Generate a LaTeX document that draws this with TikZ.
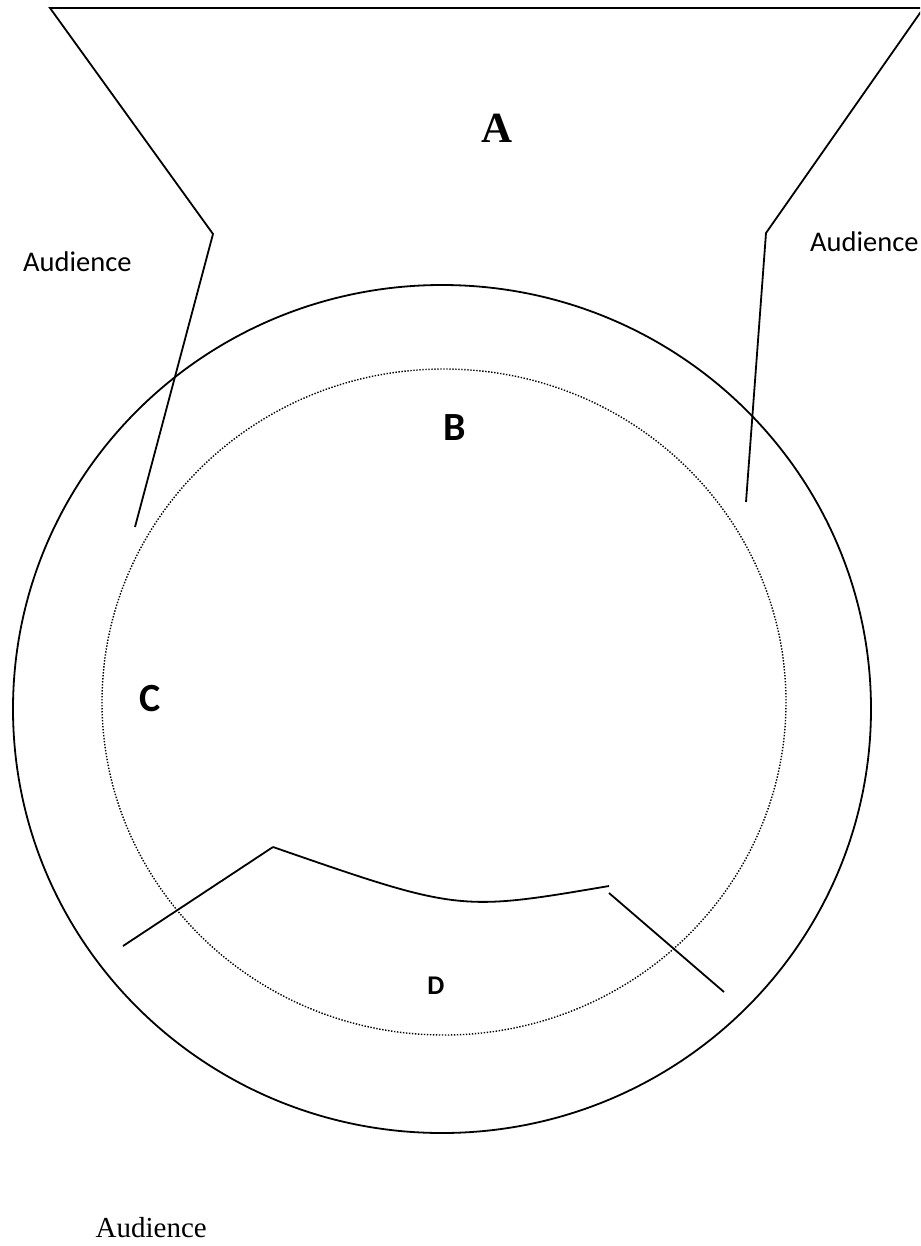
\documentclass[tikz,border=0pt]{standalone}
\usepackage{fontspec}
\setmainfont{Liberation Serif}
\newfontfamily\calibri{Carlito}
\begin{document}
\begin{tikzpicture}[x=1pt,y=-1pt,
  solidline/.style={line width=1.8pt,line join=miter},
  dotline/.style={line width=1.4pt,dash pattern=on 1.4pt off 1.6pt},
  sanslabel/.style={font=\calibri\fontsize{28.5}{30}\selectfont,inner sep=0pt},
  serlabel/.style={font=\fontsize{29}{31}\selectfont,inner sep=0pt},
  bigsans/.style={font=\calibri\bfseries\fontsize{40}{42}\selectfont,inner sep=0pt},
  bigserif/.style={font=\bfseries\fontsize{43}{45}\selectfont,inner sep=0pt}]
\useasboundingbox (0,0) rectangle (920,1246);
\clip (0,0) rectangle (920,1246);
% funnel (stage A)
\coordinate (tl) at (50,8);
\coordinate (tr) at (923.5,8);
\coordinate (lk) at (213,234);
\coordinate (le) at (135,527);
\coordinate (rk) at (766,233);
\coordinate (re) at (746,502);
\draw[solidline] (le) -- (lk) -- (tl) -- (tr) -- (rk) -- (re);
% outer circle
\coordinate (oc) at (442,709);
\draw[solidline] (oc) ellipse [x radius=429, y radius=424];
% inner dotted circle
\coordinate (ic) at (444,702);
\draw[dotline] (ic) ellipse [x radius=342, y radius=333];
% lower arc and wings
\coordinate (a1) at (273,847);
\coordinate (a2) at (609,886);
\coordinate (w1) at (123,946);
\coordinate (w2s) at (609,893);
\coordinate (w2) at (724,992);
\draw[solidline] (a1) .. controls (459,911.5) .. (a2);
\draw[solidline] (w1) -- (a1);
\draw[solidline] (w2s) -- (w2);
% labels
\node[bigserif,anchor=base] (A) at (497,143) {A};
\node[bigsans,anchor=base] (B) at (455,440) {B};
\node[bigsans,anchor=base] (C) at (150,711) {C};
\node[font=\calibri\bfseries\fontsize{27}{29}\selectfont,inner sep=0pt,anchor=base] (D) at (436,994) {D};
\node[sanslabel,anchor=base west] (aud1) at (23,272) {Audience};
\node[sanslabel,anchor=base west] (aud2) at (810,252) {Audience};
\node[serlabel,anchor=base east] (aud3) at (207,1237) {Audience};
\end{tikzpicture}
\end{document}
